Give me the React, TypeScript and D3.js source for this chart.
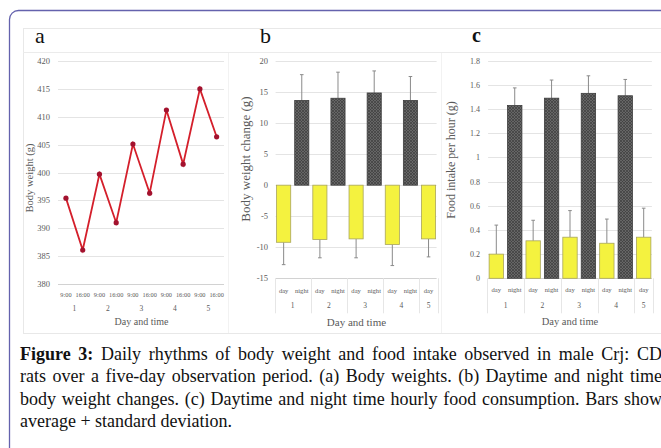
import { useRef, useEffect } from "react";
import { select, scaleLinear, scaleBand, line, range } from "d3";

// panel a: body weight
const timeLabels = ["9:00", "16:00", "9:00", "16:00", "9:00", "16:00", "9:00", "16:00", "9:00", "16:00"];
const dayLabels = ["1", "2", "3", "4", "5"];
const bodyWeight = [395.4, 386.1, 399.7, 391.0, 405.1, 396.3, 411.2, 401.5, 415.0, 406.4];
const weightTicks = [380, 385, 390, 395, 400, 405, 410, 415, 420];

// panels b and c: day / night
const periods = ["day", "night", "day", "night", "day", "night", "day", "night", "day"];
const periodDays = [1, 1, 2, 2, 3, 3, 4, 4, 5];
const weightChange = [-9.2, 13.65, -8.75, 14.0, -8.65, 14.85, -9.55, 13.65, -8.65];
const weightChangeSd = [3.6, 4.15, 2.95, 4.2, 3.05, 3.55, 3.4, 3.85, 2.9];
const changeTicks = [-15, -10, -5, 0, 5, 10, 15, 20];
const foodIntake = [0.2, 1.43, 0.31, 1.49, 0.34, 1.53, 0.29, 1.51, 0.34];
const foodSd = [0.24, 0.145, 0.17, 0.15, 0.22, 0.145, 0.2, 0.135, 0.24];
const foodTicks = [0, 0.2, 0.4, 0.6, 0.8, 1, 1.2, 1.4, 1.6, 1.8];

const captionLines = [
  ["Figure 3:", " Daily rhythms of body weight and food intake observed in male Crj: CD"],
  ["", "rats over a five-day observation period. (a) Body weights. (b) Daytime and night time"],
  ["", "body weight changes. (c) Daytime and night time hourly food consumption. Bars show"],
  ["", "average + standard deviation."],
];

const FONT = "'Liberation Serif', 'Times New Roman', serif";
const AXIS_TXT = "#5a5a5a";
const GRID = "#e4e4e4";
const YELLOW = "#f4f23f";

const App = () => {
  const ref = useRef<HTMLDivElement>(null);

  useEffect(() => {
    if (!ref.current) return;
    const root = select(ref.current);
    root.selectAll("*").remove();

    const svg = root
      .append("svg")
      .attr("width", 661)
      .attr("height", 448)
      .style("position", "absolute")
      .style("left", "0px")
      .style("top", "0px")
      .style("background", "#fff");

    const defs = svg.append("defs");
    const pat = defs
      .append("pattern")
      .attr("id", "hatch")
      .attr("width", 3)
      .attr("height", 3)
      .attr("patternUnits", "userSpaceOnUse");
    pat.append("rect").attr("width", 3).attr("height", 3).attr("fill", "#666");
    pat
      .append("path")
      .attr("d", "M0,0L3,3M3,0L0,3")
      .attr("stroke", "#3e3e3e")
      .attr("stroke-width", 0.7);

    const txt = (
      g: any,
      x: number,
      y: number,
      s: string,
      size: number,
      anchor = "middle",
      fill = AXIS_TXT
    ) =>
      g
        .append("text")
        .attr("x", x)
        .attr("y", y)
        .attr("font-size", size)
        .attr("font-family", FONT)
        .attr("text-anchor", anchor)
        .attr("fill", fill)
        .text(s);

    const vtxt = (g: any, x: number, y: number, s: string, size: number) =>
      g
        .append("text")
        .attr("transform", `translate(${x},${y}) rotate(-90)`)
        .attr("font-size", size)
        .attr("font-family", FONT)
        .attr("text-anchor", "middle")
        .attr("fill", AXIS_TXT)
        .text(s);

    // outer frame + figure image box
    svg
      .append("rect")
      .attr("x", 9.5)
      .attr("y", 10.5)
      .attr("width", 720)
      .attr("height", 520)
      .attr("rx", 9)
      .attr("fill", "none")
      .attr("stroke", "#6462ad")
      .attr("stroke-width", 1.3);
    svg
      .append("rect")
      .attr("x", 23.5)
      .attr("y", 28.5)
      .attr("width", 700)
      .attr("height", 305)
      .attr("fill", "none")
      .attr("stroke", "#e8e8e8");
    svg
      .append("line")
      .attr("x1", 23)
      .attr("x2", 661)
      .attr("y1", 52.5)
      .attr("y2", 52.5)
      .attr("stroke", "#ebebeb");
    [228.5, 441.5].forEach((x) =>
      svg
        .append("line")
        .attr("x1", x)
        .attr("x2", x)
        .attr("y1", 53)
        .attr("y2", 333)
        .attr("stroke", "#f2f2f2")
    );

    txt(svg, 35, 43, "a", 22, "start", "#111");
    txt(svg, 260, 43, "b", 22, "start", "#111");
    txt(svg, 472, 41.5, "c", 20, "start", "#111").attr("font-weight", "bold");

    // ---------- panel a ----------
    const ga = svg.append("g");
    const xA = scaleBand<number>().domain(range(bodyWeight.length)).range([57.6, 225]);
    const cA = (i: number) => (xA(i) as number) + xA.bandwidth() / 2;
    const yA = scaleLinear().domain([380, 420]).range([284, 61]);

    weightTicks.forEach((t) => {
      ga.append("line")
        .attr("x1", 58)
        .attr("x2", 224)
        .attr("y1", Math.round(yA(t)) + 0.5)
        .attr("y2", Math.round(yA(t)) + 0.5)
        .attr("stroke", t === 380 ? "#d2d2d2" : GRID);
      txt(ga, 50, yA(t) + 3, String(t), 8.5, "end");
    });

    ga.append("path")
      .datum(bodyWeight)
      .attr(
        "d",
        line<number>()
          .x((_d, i) => cA(i))
          .y((d) => yA(d))
      )
      .attr("fill", "none")
      .attr("stroke", "#d41f2b")
      .attr("stroke-width", 1.8);
    ga.selectAll("circle")
      .data(bodyWeight)
      .enter()
      .append("circle")
      .attr("cx", (_d, i) => cA(i))
      .attr("cy", (d) => yA(d))
      .attr("r", 2.6)
      .attr("fill", "#a3122e");

    timeLabels.forEach((s, i) => txt(ga, cA(i), 296.5, s, 6.3));
    dayLabels.forEach((s, d) => txt(ga, (cA(2 * d) + cA(2 * d + 1)) / 2, 310.5, s, 7.5));
    txt(ga, 141.5, 325, "Day and time", 10);
    vtxt(ga, 33, 178, "Body weight (g)", 10.5);

    // ---------- bar panels ----------
    const drawBars = (cfg: {
      x0: number;
      x1: number;
      yDomain: [number, number];
      yTop: number;
      yBottom: number;
      values: number[];
      sds: number[];
      ticks: number[];
      tickX: number;
      tickSize: number;
      labelY: number[];
      title: [number, number, number];
      yLabel: [number, number, number, string];
    }) => {
      const g = svg.append("g");
      const x = scaleBand<number>()
        .domain(range(cfg.values.length))
        .range([cfg.x0, cfg.x1])
        .paddingInner(0.22)
        .paddingOuter(0.11);
      const y = scaleLinear().domain(cfg.yDomain).range([cfg.yBottom, cfg.yTop]);
      const step = x.step();
      const cx = (i: number) => (x(i) as number) + x.bandwidth() / 2;

      cfg.ticks.forEach((t, k) => {
        const yy = Math.round(y(t)) + 0.5;
        g.append("line")
          .attr("x1", cfg.x0 + 1)
          .attr("x2", cfg.x1 - 1)
          .attr("y1", yy)
          .attr("y2", yy)
          .attr("stroke", k === 0 ? "#d2d2d2" : GRID);
        txt(g, cfg.tickX, y(t) + 3, String(+t.toFixed(1)), cfg.tickSize, "end");
      });

      // multi-level category separators
      [0, 2, 4, 6, 8, 9].forEach((k) => {
        const xx = Math.round(cfg.x0 + step * k) + 0.5;
        g.append("line")
          .attr("x1", xx)
          .attr("x2", xx)
          .attr("y1", cfg.yBottom)
          .attr("y2", cfg.yBottom + 35)
          .attr("stroke", "#e6e6e6");
      });

      // error bars (mean + sd, away from zero)
      cfg.values.forEach((v, i) => {
        const end = v + Math.sign(v) * cfg.sds[i];
        g.append("line")
          .attr("x1", cx(i))
          .attr("x2", cx(i))
          .attr("y1", y(v))
          .attr("y2", y(end))
          .attr("stroke", "#8a8a8a")
          .attr("stroke-width", 1);
        g.append("line")
          .attr("x1", cx(i) - 1.8)
          .attr("x2", cx(i) + 1.8)
          .attr("y1", y(end))
          .attr("y2", y(end))
          .attr("stroke", "#8a8a8a")
          .attr("stroke-width", 1);
      });

      g.selectAll("rect.bar")
        .data(cfg.values)
        .enter()
        .append("rect")
        .attr("class", "bar")
        .attr("x", (_d, i) => x(i) as number)
        .attr("width", x.bandwidth())
        .attr("y", (d) => Math.min(y(d), y(0)))
        .attr("height", (d) => Math.abs(y(d) - y(0)))
        .attr("fill", (_d, i) => (periods[i] === "night" ? "url(#hatch)" : YELLOW))
        .attr("stroke", (_d, i) => (periods[i] === "night" ? "#3d3d3d" : "#a9a55c"))
        .attr("stroke-width", 0.8);

      periods.forEach((p, i) => txt(g, cx(i), cfg.labelY[0], p, 6.6));
      dayLabels.forEach((s, d) => {
        const idx = periodDays
          .map((pd, i) => (pd === d + 1 ? i : -1))
          .filter((i) => i >= 0);
        const mid = (cx(idx[0]) + cx(idx[idx.length - 1])) / 2;
        txt(g, mid, cfg.labelY[1], s, 7.5);
      });
      txt(g, cfg.title[0], cfg.title[1], "Day and time", cfg.title[2]);
      vtxt(g, cfg.yLabel[0], cfg.yLabel[1], cfg.yLabel[3], cfg.yLabel[2]);
    };

    drawBars({
      x0: 274.6,
      x1: 437.6,
      yDomain: [-15, 20],
      yTop: 61,
      yBottom: 278.3,
      values: weightChange,
      sds: weightChangeSd,
      ticks: changeTicks,
      tickX: 268,
      tickSize: 8.5,
      labelY: [292.5, 307.5],
      title: [356.5, 325.5, 11],
      yLabel: [250, 159, 13, "Body weight change (g)"],
    });

    drawBars({
      x0: 487.1,
      x1: 652.9,
      yDomain: [0, 1.8],
      yTop: 60.7,
      yBottom: 278.3,
      values: foodIntake,
      sds: foodSd,
      ticks: foodTicks,
      tickX: 480,
      tickSize: 8,
      labelY: [292, 308],
      title: [570, 324.5, 10.5],
      yLabel: [455, 160, 12, "Food intake per hour (g)"],
    });

    // ---------- caption (justified, last line ragged) ----------
    const baselines = [359.5, 382, 404.5, 427];
    const rightEdge = 662;
    captionLines.forEach(([bold, rest], i) => {
      const t = svg
        .append("text")
        .attr("x", 20)
        .attr("y", baselines[i])
        .attr("font-size", 18)
        .attr("font-family", FONT)
        .attr("fill", "#111");
      if (bold) t.append("tspan").attr("font-weight", "bold").text(bold);
      t.append("tspan").text(rest);
      if (i < captionLines.length - 1) {
        const node = t.node() as SVGTextElement;
        const w = node.getComputedTextLength();
        const spaces = (bold + rest).split(" ").length - 1;
        const extra = (rightEdge - 20 - w) / spaces;
        t.attr("word-spacing", extra);
      }
    });

    return () => {
      root.selectAll("*").remove();
    };
  }, []);

  return <div ref={ref} />;
};

export default App;
